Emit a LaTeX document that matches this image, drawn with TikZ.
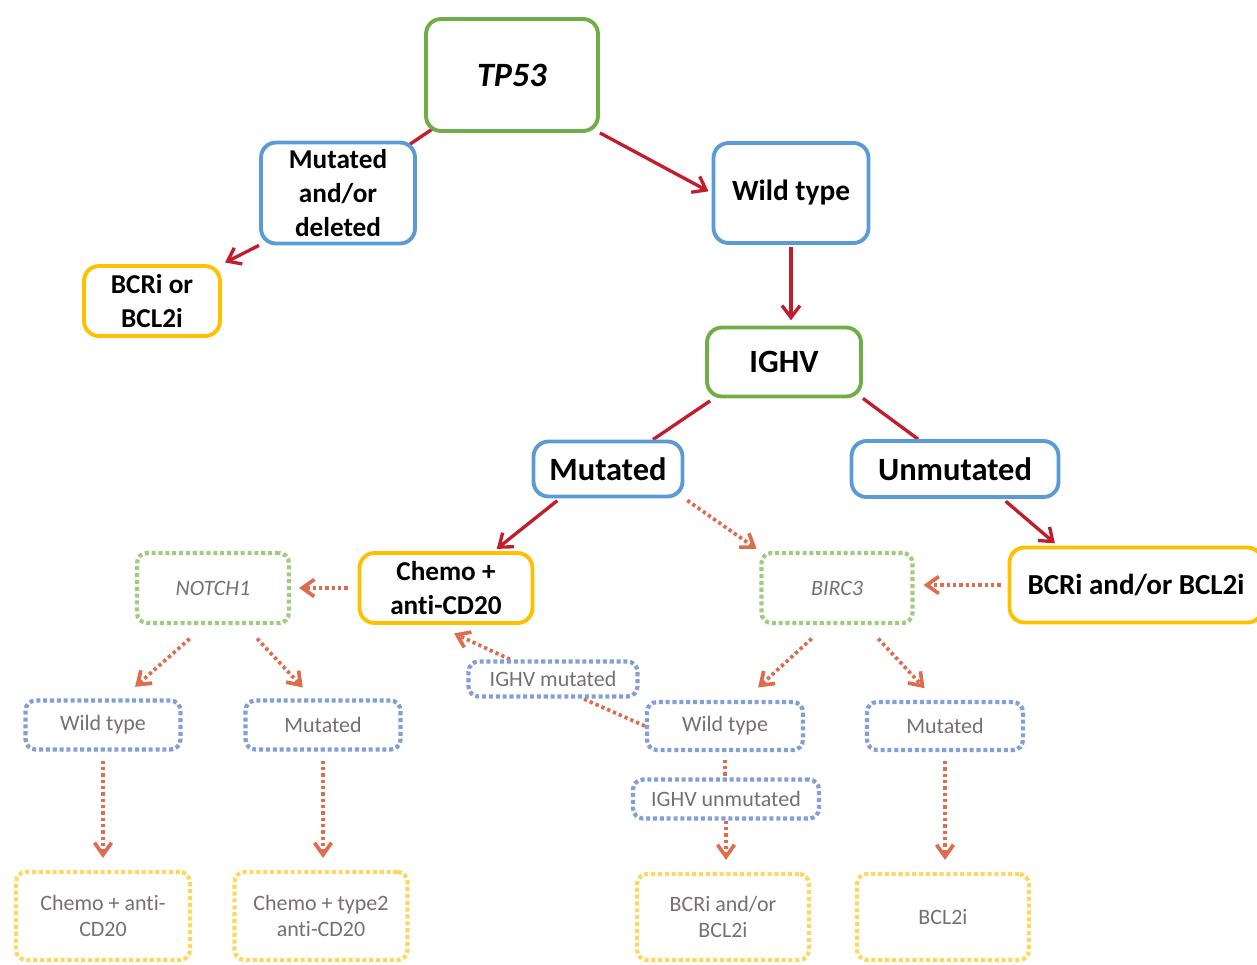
\documentclass[tikz,border=0pt]{standalone}
\usepackage{fontspec}
\setmainfont{Carlito}[Ligatures=NoCommon]
\usepackage{tikz}
\usetikzlibrary{arrows.meta,backgrounds}
\definecolor{mygreen}{RGB}{112,173,71}
\definecolor{myblue}{RGB}{91,155,213}
\definecolor{myyellow}{RGB}{255,192,0}
\definecolor{lightgreen}{RGB}{160,204,130}
\definecolor{lightblue}{RGB}{130,160,215}
\definecolor{lightyellow}{RGB}{255,214,95}
\definecolor{myred}{RGB}{192,30,45}
\definecolor{myorange}{RGB}{222,108,78}
\definecolor{mygrey}{RGB}{118,113,113}
\tikzset{
  box/.style={draw, rounded corners=0.3cm, line width=2.2pt, fill=white, align=center, inner sep=0pt},
  gbox/.style={box, draw=mygreen},
  bbox/.style={box, draw=myblue},
  ybox/.style={box, draw=myyellow},
  faint/.style={draw, rounded corners=0.2cm, line width=2.4pt, dash pattern=on 2.3pt off 1.6pt,
    fill=white, align=center, inner sep=0pt, text=mygrey, font=\fontsize{12.5}{14.7}\selectfont},
  fgreen/.style={faint, draw=lightgreen},
  fblue/.style={faint, draw=lightblue},
  fyellow/.style={faint, draw=lightyellow},
  redline/.style={draw=myred, line width=1.9pt},
  redarrow/.style={redline, -{Straight Barb[length=2.4mm,width=3.6mm]}},
  dotline/.style={draw=myorange, line width=2.1pt, dash pattern=on 1.9pt off 1.7pt},
  dotarrow/.style={dotline, -{Straight Barb[length=2.4mm,width=3.4mm]}}
}
\begin{document}
\begin{tikzpicture}[x=0.02cm, y=-0.02cm]
    \useasboundingbox (0,0) rectangle (1257,964);

    \node(tp53) [gbox, minimum width=3.44cm, minimum height=2.24cm, font=\fontsize{19.4}{23}\selectfont\bfseries] at (512,75) {\textit{TP53}};
    \node(mad) [bbox, minimum width=3.08cm, minimum height=2.02cm, font=\fontsize{15.5}{19.5}\selectfont\bfseries] at (338,193) {Mutated\\and/or\\deleted};
    \node(wt) [bbox, minimum width=3.10cm, minimum height=2.00cm, font=\fontsize{16.7}{20}\selectfont\bfseries] at (791,193) {Wild type};
    \node(bcrbcl) [ybox, minimum width=2.72cm, minimum height=1.40cm, font=\fontsize{15.5}{19.5}\selectfont\bfseries] at (152,301) {BCRi or\\BCL2i};
    \node(ighv) [gbox, minimum width=3.08cm, minimum height=1.38cm, font=\fontsize{18.5}{22}\selectfont\bfseries] at (784,362) {IGHV};
    \node(mut) [bbox, minimum width=2.98cm, minimum height=1.10cm, font=\fontsize{18.5}{22}\selectfont\bfseries] at (608,469) {Mutated};
    \node(unm) [bbox, minimum width=4.14cm, minimum height=1.12cm, font=\fontsize{18.5}{22}\selectfont\bfseries] at (955,469) {Unmutated};
    \node(chemo) [ybox, minimum width=3.46cm, minimum height=1.40cm, font=\fontsize{15.5}{19.5}\selectfont\bfseries] at (446,588) {Chemo +\\anti-CD20};
    \node(bcrand) [ybox, minimum width=5.06cm, minimum height=1.50cm, font=\fontsize{16.5}{20}\selectfont\bfseries] at (1136,585) {BCRi and/or BCL2i};

    \node(notch) [fgreen, minimum width=3.04cm, minimum height=1.40cm] at (213,588) {\textit{NOTCH1}};
    \node(birc) [fgreen, minimum width=3.02cm, minimum height=1.40cm] at (837,588) {\textit{BIRC3}};
    \node(wtl) [fblue, minimum width=3.10cm, minimum height=0.98cm] at (103,725) {Wild type};
    \node(mutl) [fblue, minimum width=3.10cm, minimum height=0.98cm] at (323,725) {Mutated};
    \node(ighvm) [fblue, minimum width=3.38cm, minimum height=0.70cm] at (553,679) {IGHV mutated};
    \node(wtr) [fblue, minimum width=3.12cm, minimum height=0.96cm] at (725,726) {Wild type};
    \node(mutr) [fblue, minimum width=3.12cm, minimum height=0.96cm] at (945,726) {Mutated};
    \node(ighvu) [fblue, minimum width=3.72cm, minimum height=0.78cm] at (726,799) {IGHV unmutated};
    \node(ch1) [fyellow, minimum width=3.48cm, minimum height=1.76cm] at (103,916) {Chemo + anti-\\CD20};
    \node(ch2) [fyellow, minimum width=3.46cm, minimum height=1.76cm] at (321,916) {Chemo + type2\\anti-CD20};
    \node(bcr2) [fyellow, minimum width=3.44cm, minimum height=1.72cm] at (723,917) {BCRi and/or\\BCL2i};
    \node(bcl2) [fyellow, minimum width=3.44cm, minimum height=1.72cm] at (943,917) {BCL2i};

    \begin{scope}[on background layer]
    \draw[redline] (tp53.center) -- (mad.center);
    \draw[redarrow, shorten >=2pt] (tp53.south east) -- (wt.west);
    \draw[redarrow, shorten >=2pt] (mad.south west) -- (bcrbcl.north east);
    \draw[redarrow, shorten <=1pt, shorten >=3pt] (wt.south) -- (wt.south |- ighv.north);
    \draw[redline] ([xshift=1mm,yshift=-0.5mm]ighv.south west) -- ([xshift=9mm]mut.north);
    \draw[redline] (ighv.south east) -- ([xshift=-7.4mm]unm.north);
    \draw[redarrow, shorten <=2pt, shorten >=2pt] ([xshift=-9.6mm]mut.south) -- ([xshift=9.6mm]chemo.north);
    \draw[redarrow, shorten <=2pt, shorten >=2pt] ([xshift=9.6mm]unm.south) -- ([xshift=10mm]bcrand.north west);

    \draw[dotarrow, shorten <=2pt, shorten >=2pt] (mut.south east) -- (birc.north west);
    \draw[dotarrow, shorten <=0.2cm, shorten >=0.16cm] (chemo.west) -- (notch.east);
    \draw[dotarrow, shorten <=0.14cm, shorten >=0.18cm] (bcrand.west) -- (bcrand.west -| birc.east);
    \draw[dotarrow, shorten <=0.41cm, shorten >=0.35cm] ([xshift=-1.6mm]notch.south) -- ([xshift=3.8mm]wtl.north);
    \draw[dotarrow, shorten <=0.37cm, shorten >=0.3cm] ([xshift=6.3mm]notch.south) -- ([xshift=-2mm]mutl.north);
    \draw[dotarrow, shorten <=0.18cm, shorten >=0.24cm] (wtl.south) -- (wtl.south |- ch1.north);
    \draw[dotarrow, shorten <=0.18cm, shorten >=0.24cm] (mutl.south) -- (mutl.south |- ch2.north);
    \draw[dotarrow, shorten >=0.4cm] ([xshift=-8.6mm]ighvm.north) -- ([xshift=-2mm]chemo.south);
    \draw[dotline] (wtr.west) -- ([xshift=6mm]ighvm.south);
    \draw[dotarrow, shorten <=0.4cm, shorten >=0.37cm] ([xshift=-2.1mm]birc.south) -- ([xshift=3.9mm]wtr.north);
    \draw[dotarrow, shorten <=0.37cm, shorten >=0.32cm] ([xshift=5.7mm]birc.south) -- ([xshift=-1.9mm]mutr.north);
    \draw[dotline, shorten <=0.15cm] (wtr.south) -- (wtr.south |- ighvu.north);
    \draw[dotarrow, shorten >=0.24cm] (ighvu.south) -- (ighvu.south |- bcr2.north);
    \draw[dotarrow, shorten <=0.18cm, shorten >=0.24cm] (mutr.south) -- (mutr.south |- bcl2.north);
    \end{scope}
\end{tikzpicture}
\end{document}
